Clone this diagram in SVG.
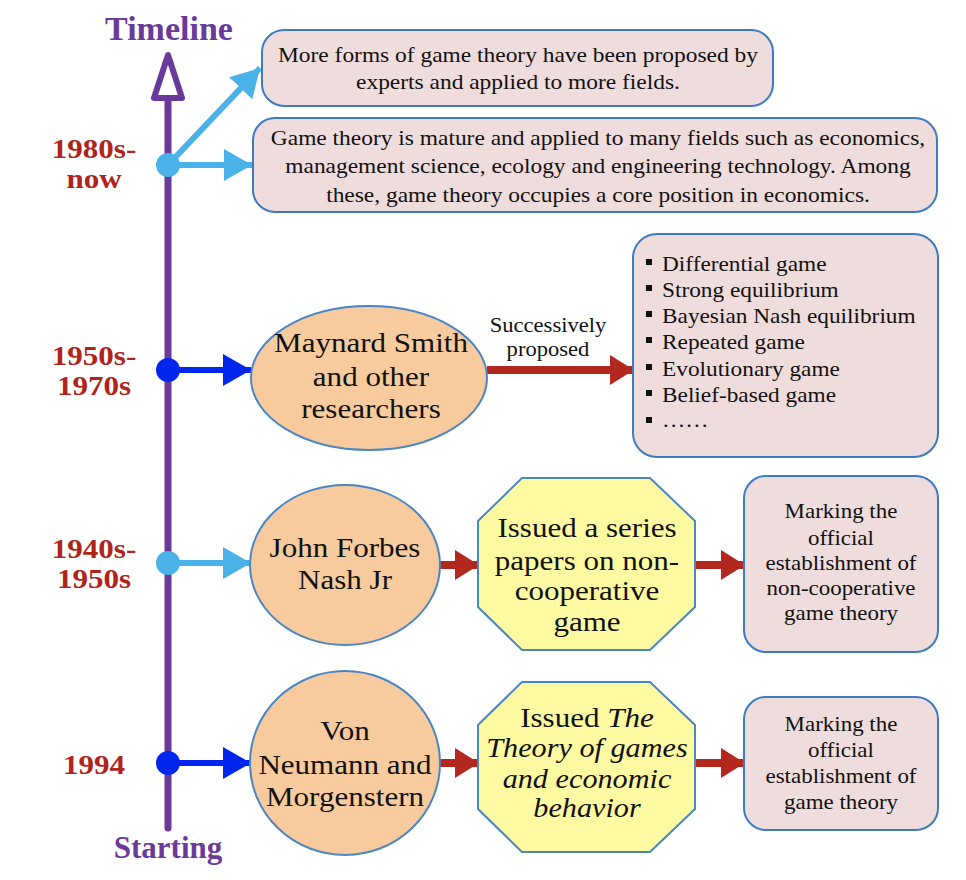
<svg xmlns="http://www.w3.org/2000/svg" width="966" height="880" viewBox="0 0 966 880">
<defs>
<style>
.t{font-family:"Liberation Serif","Times New Roman",serif;fill:#111;text-anchor:middle}
.yr{font-family:"Liberation Serif","Times New Roman",serif;font-weight:bold;fill:#b0231b;font-size:27px;text-anchor:middle}
.pt{font-family:"Liberation Serif","Times New Roman",serif;font-weight:bold;fill:#6a3a9a;text-anchor:middle}
.box{fill:#efdcdc;stroke:#3d7cc0;stroke-width:2}
.ell{fill:#f7cb9d;stroke:#4a86c4;stroke-width:2}
.oct{fill:#fdfaa2;stroke:#4a86c4;stroke-width:2}
.blue{stroke:#0026ee;stroke-width:6;fill:none}
.lblue{stroke:#4ab2e8;stroke-width:6;fill:none}
.red{stroke:#b2281e;stroke-width:8;fill:none}
.big{font-size:27px}
.mid{font-size:22px}
.sm{font-size:20.5px}
.it{font-style:italic}
</style>
<marker id="hb" markerUnits="userSpaceOnUse" markerWidth="30" markerHeight="34" refX="28" refY="16" orient="auto"><path d="M0,0 L28,16 L0,32 z" fill="#0026ee"/></marker>
<marker id="hl" markerUnits="userSpaceOnUse" markerWidth="30" markerHeight="34" refX="28" refY="16" orient="auto"><path d="M0,0 L28,16 L0,32 z" fill="#4ab2e8"/></marker>
<marker id="hr" markerUnits="userSpaceOnUse" markerWidth="26" markerHeight="32" refX="24" refY="15" orient="auto"><path d="M0,0 L24,15 L0,30 z" fill="#b2281e"/></marker>
</defs>
<rect width="966" height="880" fill="#fff"/>

<g id="axis">
<line x1="168" y1="98" x2="168" y2="828" stroke="#6a3a9a" stroke-width="7" stroke-linecap="round"/>
<polygon points="168,55 154,98 182,98" fill="#fff" stroke="#6a3a9a" stroke-width="6" stroke-linejoin="round"/>
<text class="pt" x="169" y="40" font-size="34">Timeline</text>
<text class="pt" x="168" y="858" font-size="31">Starting</text>
</g>

<g id="years">
<text class="yr" transform="translate(94 158) scale(1.15 1)">1980s-</text>
<text class="yr" transform="translate(94 188) scale(1.15 1)">now</text>
<text class="yr" transform="translate(94 365) scale(1.15 1)">1950s-</text>
<text class="yr" transform="translate(94 395) scale(1.15 1)">1970s</text>
<text class="yr" transform="translate(94 558) scale(1.15 1)">1940s-</text>
<text class="yr" transform="translate(94 588) scale(1.15 1)">1950s</text>
<text class="yr" transform="translate(94 774) scale(1.15 1)">1994</text>
</g>

<g id="connectors">
<line class="lblue" x1="168" y1="165" x2="260" y2="68" marker-end="url(#hl)"/>
<line class="lblue" x1="168" y1="165" x2="252" y2="165" marker-end="url(#hl)"/>
<line class="blue" x1="168" y1="370" x2="251" y2="370" marker-end="url(#hb)"/>
<line class="lblue" x1="168" y1="563" x2="251" y2="563" marker-end="url(#hl)"/>
<line class="blue" x1="168" y1="763" x2="251" y2="763" marker-end="url(#hb)"/>
<line class="red" x1="487" y1="370" x2="634" y2="370" marker-end="url(#hr)"/>
<line class="red" x1="440" y1="565" x2="479" y2="565" marker-end="url(#hr)"/>
<line class="red" x1="695" y1="565" x2="745" y2="565" marker-end="url(#hr)"/>
<line class="red" x1="440" y1="763" x2="479" y2="763" marker-end="url(#hr)"/>
<line class="red" x1="695" y1="763" x2="745" y2="763" marker-end="url(#hr)"/>
<text class="t" font-size="20" transform="translate(548 332) scale(1.13 1)">Successively</text>
<text class="t" font-size="20" transform="translate(548 356) scale(1.13 1)">proposed</text>
</g>

<g id="dots">
<circle cx="168" cy="165" r="12" fill="#4ab2e8"/>
<circle cx="168" cy="370" r="12" fill="#0026ee"/>
<circle cx="168" cy="563" r="12" fill="#4ab2e8"/>
<circle cx="168" cy="763" r="12" fill="#0026ee"/>
</g>

<g id="box-more-forms">
<rect class="box" x="262" y="30" width="511" height="76" rx="22"/>
<text class="t mid" transform="translate(518 62) scale(1.065 1)">More forms of game theory have been proposed by</text>
<text class="t mid" transform="translate(518 89) scale(1.065 1)">experts and applied to more fields.</text>
</g>

<g id="box-mature">
<rect class="box" x="253" y="118" width="684" height="94" rx="22"/>
<text class="t mid" transform="translate(598 145) scale(1.065 1)">Game theory is mature and applied to many fields such as economics,</text>
<text class="t mid" transform="translate(598 173) scale(1.065 1)">management science, ecology and engineering technology. Among</text>
<text class="t mid" transform="translate(598 202) scale(1.065 1)">these, game theory occupies a core position in economics.</text>
</g>

<g id="maynard">
<ellipse class="ell" cx="369" cy="378" rx="118" ry="72"/>
<text class="t big" transform="translate(371 352) scale(1.15 1)">Maynard Smith</text>
<text class="t big" transform="translate(371 386) scale(1.15 1)">and other</text>
<text class="t big" transform="translate(371 418) scale(1.15 1)">researchers</text>
</g>

<g id="list">
<rect class="box" x="633" y="234" width="305" height="223" rx="24"/>
<g font-family="Liberation Serif, Times New Roman, serif" font-size="21" fill="#111">
<rect x="646" y="259" width="6" height="6"/><text transform="translate(662 271) scale(1.11 1)">Differential game</text>
<rect x="646" y="285" width="6" height="6"/><text transform="translate(662 297) scale(1.11 1)">Strong equilibrium</text>
<rect x="646" y="311" width="6" height="6"/><text transform="translate(662 323) scale(1.11 1)">Bayesian Nash equilibrium</text>
<rect x="646" y="337" width="6" height="6"/><text transform="translate(662 349) scale(1.11 1)">Repeated game</text>
<rect x="646" y="364" width="6" height="6"/><text transform="translate(662 376) scale(1.11 1)">Evolutionary game</text>
<rect x="646" y="390" width="6" height="6"/><text transform="translate(662 402) scale(1.11 1)">Belief-based game</text>
<rect x="646" y="417" width="6" height="6"/><text transform="translate(662 427) scale(1.11 1)">……</text>
</g>
</g>

<g id="nash">
<ellipse class="ell" cx="345" cy="565" rx="95" ry="80"/>
<text class="t big" transform="translate(345 557) scale(1.15 1)">John Forbes</text>
<text class="t big" transform="translate(345 589) scale(1.15 1)">Nash Jr</text>
</g>

<g id="nash-papers">
<polygon class="oct" points="522,478 650,478 695,521 695,607 650,650 522,650 478,607 478,521"/>
<text class="t big" transform="translate(587 537) scale(1.15 1)">Issued a series</text>
<text class="t big" transform="translate(587 570) scale(1.15 1)">papers on non-</text>
<text class="t big" transform="translate(587 600) scale(1.15 1)">cooperative</text>
<text class="t big" transform="translate(587 631) scale(1.15 1)">game</text>
</g>

<g id="nash-result">
<rect class="box" x="744" y="476" width="194" height="176" rx="22"/>
<text class="t sm" transform="translate(841 518) scale(1.12 1)">Marking the</text>
<text class="t sm" transform="translate(841 545) scale(1.12 1)">official</text>
<text class="t sm" transform="translate(841 570) scale(1.12 1)">establishment of</text>
<text class="t sm" transform="translate(841 595) scale(1.12 1)">non-cooperative</text>
<text class="t sm" transform="translate(841 620) scale(1.12 1)">game theory</text>
</g>

<g id="neumann">
<ellipse class="ell" cx="345" cy="763" rx="95" ry="92"/>
<text class="t big" transform="translate(345 740) scale(1.15 1)">Von</text>
<text class="t big" transform="translate(345 774) scale(1.15 1)">Neumann and</text>
<text class="t big" transform="translate(345 806) scale(1.15 1)">Morgenstern</text>
</g>

<g id="neumann-book">
<polygon class="oct" points="522,682 650,682 695,725 695,809 650,852 522,852 478,809 478,725"/>
<text class="t big" transform="translate(587 727) scale(1.15 1)">Issued <tspan class="it">The</tspan></text>
<text class="t big it" transform="translate(587 757) scale(1.12 1)">Theory of games</text>
<text class="t big it" transform="translate(587 788) scale(1.12 1)">and economic</text>
<text class="t big it" transform="translate(587 817) scale(1.12 1)">behavior</text>
</g>

<g id="neumann-result">
<rect class="box" x="744" y="697" width="194" height="133" rx="22"/>
<text class="t sm" transform="translate(841 731) scale(1.12 1)">Marking the</text>
<text class="t sm" transform="translate(841 757) scale(1.12 1)">official</text>
<text class="t sm" transform="translate(841 783) scale(1.12 1)">establishment of</text>
<text class="t sm" transform="translate(841 809) scale(1.12 1)">game theory</text>
</g>
</svg>
